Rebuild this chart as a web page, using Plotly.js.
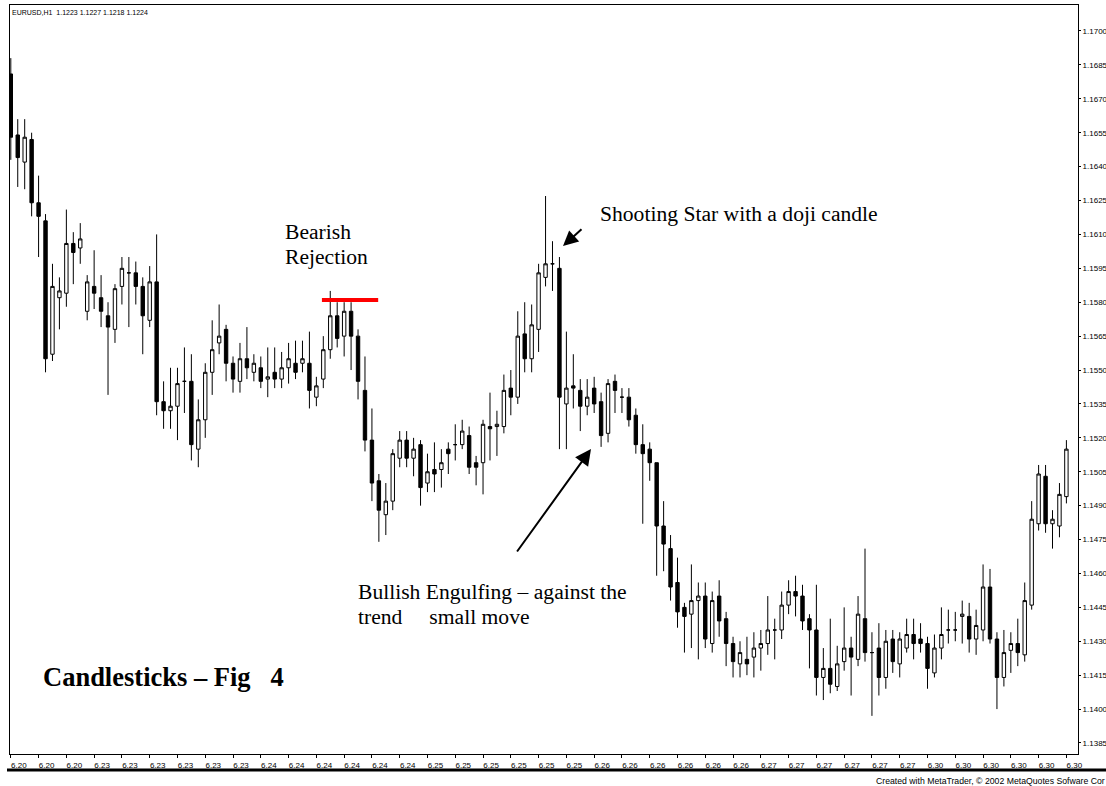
<!DOCTYPE html>
<html>
<head>
<meta charset="utf-8">
<script src="https://cdn.plot.ly/plotly-3.0.1.min.js"></script>
<style>
html,body{margin:0;padding:0;background:#fff;}
#chart{width:1106px;height:786px;}
</style>
</head>
<body>
<div id="chart"></div>
<script>
// EURUSD H1 candles (bar order left to right)
const opens = [
1.1681,1.1654,1.1642,1.1652,1.1624,1.1616,1.1557,1.1582,1.1584,1.1606,
1.1604,1.1576,1.1587,1.1582,1.1574,1.1568,1.1587,1.1593,1.1593,1.1587,
1.1572,1.1589,1.1536,1.1532,1.1534,1.1545,1.1545,1.1515,1.1528,1.1549,
1.1562,1.1568,1.1553,1.1545,1.1555,1.1549,1.1551,1.1546,1.1549,1.1546,
1.1551,1.1553,1.1553,1.1553,1.1538,1.1546,1.1559,1.1574,1.1565,1.1576,
1.1565,1.1541,1.1519,1.1501,1.1486,1.1492,1.1511,1.1519,1.1511,1.1517,
1.1500,1.1506,1.1506,1.1515,1.1517,1.1517,1.1521,1.1509,1.1509,1.1525,
1.1525,1.1525,1.1542,1.1538,1.1566,1.1555,1.1568,1.1591,1.1597,1.1595,
1.1535,1.1543,1.1541,1.1534,1.1542,1.1536,1.1522,1.1545,1.1538,1.1538,
1.1530,1.1517,1.1515,1.1509,1.1481,1.1471,1.1456,1.1445,1.1442,1.1448,
1.1450,1.1429,1.1450,1.1440,1.1429,1.1420,1.1422,1.1423,1.1427,1.1429,
1.1435,1.1435,1.1446,1.1452,1.1450,1.1440,1.1435,1.1414,1.1418,1.1410,
1.1421,1.1427,1.1422,1.1440,1.1425,1.1427,1.1414,1.1431,1.1420,1.1427,
1.1433,1.1431,1.1429,1.1416,1.1427,1.1435,1.1435,1.1441,1.1441,1.1431,
1.1435,1.1454,1.1431,1.1414,1.1426,1.1429,1.1424,1.1446,1.1482,1.1503,
1.1482,1.1481,1.1494
];
const highs = [
1.1688,1.1661,1.1661,1.1655,1.1636,1.1619,1.1597,1.1591,1.1621,1.1611,
1.1615,1.1592,1.1603,1.1592,1.1580,1.1588,1.1600,1.1600,1.1598,1.1591,
1.1596,1.1610,1.1545,1.1551,1.1551,1.1560,1.1557,1.1537,1.1553,1.1572,
1.1579,1.1570,1.1556,1.1562,1.1569,1.1557,1.1556,1.1560,1.1560,1.1558,
1.1562,1.1563,1.1563,1.1567,1.1547,1.1565,1.1585,1.1580,1.1580,1.1580,
1.1568,1.1556,1.1533,1.1504,1.1500,1.1515,1.1523,1.1523,1.1520,1.1519,
1.1513,1.1518,1.1515,1.1518,1.1526,1.1528,1.1525,1.1512,1.1528,1.1540,
1.1532,1.1548,1.1550,1.1576,1.1580,1.1579,1.1597,1.1627,1.1607,1.1600,
1.1567,1.1557,1.1546,1.1546,1.1547,1.1540,1.1546,1.1548,1.1542,1.1542,
1.1533,1.1526,1.1518,1.1509,1.1492,1.1477,1.1467,1.1447,1.1464,1.1456,
1.1456,1.1452,1.1457,1.1443,1.1432,1.1430,1.1432,1.1434,1.1435,1.1450,
1.1440,1.1452,1.1457,1.1459,1.1455,1.1442,1.1455,1.1427,1.1440,1.1428,
1.1445,1.1432,1.1450,1.1471,1.1434,1.1438,1.1435,1.1435,1.1434,1.1440,
1.1440,1.1438,1.1432,1.1433,1.1445,1.1444,1.1443,1.1448,1.1447,1.1444,
1.1464,1.1462,1.1434,1.1435,1.1434,1.1440,1.1456,1.1492,1.1508,1.1508,
1.1488,1.1500,1.1519
];
const lows = [
1.1643,1.1631,1.1630,1.1618,1.1600,1.1549,1.1554,1.1568,1.1578,1.1588,
1.1597,1.1572,1.1577,1.1569,1.1539,1.1562,1.1579,1.1569,1.1579,1.1557,
1.1569,1.1530,1.1524,1.1524,1.1519,1.1531,1.1510,1.1507,1.1520,1.1539,
1.1557,1.1545,1.1540,1.1540,1.1546,1.1545,1.1542,1.1538,1.1542,1.1542,
1.1544,1.1546,1.1549,1.1533,1.1534,1.1542,1.1555,1.1560,1.1556,1.1550,
1.1537,1.1514,1.1492,1.1474,1.1477,1.1488,1.1507,1.1507,1.1503,1.1490,
1.1496,1.1496,1.1498,1.1504,1.1510,1.1515,1.1504,1.1499,1.1495,1.1510,
1.1512,1.1522,1.1530,1.1535,1.1549,1.1549,1.1558,1.1587,1.1585,1.1515,
1.1515,1.1533,1.1523,1.1530,1.1531,1.1516,1.1518,1.1531,1.1531,1.1525,
1.1513,1.1482,1.1501,1.1459,1.1461,1.1448,1.1436,1.1425,1.1427,1.1422,
1.1427,1.1425,1.1432,1.1419,1.1414,1.1414,1.1415,1.1414,1.1417,1.1424,
1.1422,1.1431,1.1442,1.1441,1.1435,1.1418,1.1406,1.1404,1.1407,1.1408,
1.1417,1.1406,1.1419,1.1421,1.1397,1.1406,1.1409,1.1416,1.1414,1.1425,
1.1422,1.1425,1.1409,1.1414,1.1422,1.1429,1.1430,1.1429,1.1425,1.1424,
1.1430,1.1429,1.1400,1.1410,1.1416,1.1419,1.1421,1.1444,1.1479,1.1478,
1.1471,1.1476,1.1491
];
const closes = [
1.1653,1.1644,1.1653,1.1624,1.1618,1.1555,1.1587,1.1585,1.1606,1.1602,
1.1608,1.1589,1.1584,1.1576,1.1569,1.1586,1.1595,1.1593,1.1587,1.1574,
1.1589,1.1536,1.1532,1.1534,1.1544,1.1545,1.1517,1.1528,1.1549,1.1559,
1.1565,1.1553,1.1546,1.1555,1.1551,1.1553,1.1545,1.1547,1.1546,1.1551,
1.1555,1.1549,1.1555,1.1541,1.1543,1.1559,1.1574,1.1564,1.1576,1.1565,
1.1545,1.1519,1.1500,1.1488,1.1492,1.1513,1.1519,1.1511,1.1515,1.1498,
1.1505,1.1504,1.1509,1.1513,1.1517,1.1523,1.1507,1.1507,1.1526,1.1524,
1.1526,1.1541,1.1538,1.1565,1.1555,1.1570,1.1593,1.1597,1.1597,1.1538,
1.1542,1.1542,1.1534,1.1538,1.1535,1.1521,1.1544,1.1541,1.1538,1.1528,
1.1517,1.1513,1.1509,1.1481,1.1473,1.1454,1.1443,1.1441,1.1448,1.1450,
1.1431,1.1448,1.1439,1.1429,1.1421,1.1425,1.1420,1.1427,1.1429,1.1435,
1.1435,1.1446,1.1452,1.1450,1.1439,1.1435,1.1414,1.1418,1.1411,1.1420,
1.1427,1.1423,1.1442,1.1425,1.1425,1.1414,1.1430,1.1421,1.1431,1.1433,
1.1429,1.1429,1.1418,1.1427,1.1433,1.1435,1.1435,1.1442,1.1431,1.1437,
1.1454,1.1431,1.1414,1.1425,1.1429,1.1425,1.1448,1.1484,1.1504,1.1482,
1.1484,1.1495,1.1515
];
// time-axis labels (one every 4 hourly bars)
const dayLabels = [
'6.20','6.20','6.20','6.23','6.23','6.23','6.23','6.23','6.23',
'6.24','6.24','6.24','6.24','6.24','6.24','6.25','6.25','6.25','6.25','6.25','6.25',
'6.26','6.26','6.26','6.26','6.26','6.26','6.27','6.27','6.27','6.27','6.27','6.27',
'6.30','6.30','6.30','6.30','6.30','6.30'
];
const barsPerLabel = 4;
// price-axis labels
const priceTicks = [1.1385,1.1400,1.1415,1.1430,1.1445,1.1460,1.1475,1.1490,1.1505,1.1520,
  1.1535,1.1550,1.1565,1.1580,1.1595,1.1610,1.1625,1.1640,1.1655,1.1670,1.1685,1.1700];
// bearish rejection level and the bars it spans
const rejectionLevel = 1.1581;
const rejectionSpan = [44.8, 52.9];

const barIndex = opens.map((_, i) => i);
const tickVals = dayLabels.map((_, k) => k * barsPerLabel);

// layout helpers (pixel -> paper), plot area is x 10..1078, y 5..754
const L = 10, R = 1078, T = 5, B = 754;
const px = x => (x - L) / (R - L);
const py = y => (B - y) / (B - T);

const axisFont = {family: 'Liberation Sans, Arial, sans-serif', size: 8, color: '#000'};
const smallFont = {family: 'Liberation Sans, Arial, sans-serif', size: 7, color: '#000'};
const creditFont = {family: 'Liberation Sans, Arial, sans-serif', size: 8.7, color: '#000'};
const serif = {family: 'Liberation Serif, Times New Roman, serif', size: 21.6, color: '#000'};
const NB = '\u00a0';

const trace = {
  type: 'candlestick',
  x: barIndex, open: opens, high: highs, low: lows, close: closes,
  increasing: {line: {color: '#000', width: 1}, fillcolor: '#ffffff'},
  decreasing: {line: {color: '#000', width: 1}, fillcolor: '#000000'},
  whiskerwidth: 0,
  showlegend: false,
  hoverinfo: 'x+y'
};

const txt = (x, y, text, font, extra) => Object.assign({
  xref: 'paper', yref: 'paper', x: px(x), y: py(y), text: text, showarrow: false,
  xanchor: 'left', yanchor: 'middle', font: font
}, extra || {});

const layout = {
  width: 1106, height: 786,
  margin: {l: L, r: 1106 - R, t: T, b: 786 - B, pad: 0},
  paper_bgcolor: '#fff', plot_bgcolor: '#fff',
  showlegend: false,
  xaxis: {
    range: [-0.115, 153.67], rangeslider: {visible: false},
    tickmode: 'array', tickvals: tickVals, ticktext: dayLabels,
    ticks: 'outside', ticklen: 3, tickcolor: '#000', tickwidth: 1,
    ticklabelshift: 8,
    showgrid: false, zeroline: false, showline: true, linecolor: '#000', linewidth: 1, mirror: true,
    tickfont: axisFont, fixedrange: true
  },
  yaxis: {
    side: 'right', range: [1.138013, 1.171150],
    tickmode: 'array', tickvals: priceTicks, ticktext: priceTicks.map(v => v.toFixed(4)),
    ticks: 'outside', ticklen: 2, tickcolor: '#000', tickwidth: 1,
    showgrid: false, zeroline: false, showline: true, linecolor: '#000', linewidth: 1, mirror: true,
    tickfont: axisFont, fixedrange: true
  },
  shapes: [
    {type: 'line', xref: 'x', yref: 'y', x0: rejectionSpan[0], x1: rejectionSpan[1],
     y0: rejectionLevel, y1: rejectionLevel, line: {color: '#ff0000', width: 4}},
    {type: 'line', xref: 'paper', yref: 'paper', x0: px(7), x1: px(1106), y0: py(770), y1: py(770),
     line: {color: '#000', width: 3}}
  ],
  annotations: [
    txt(10, 12, 'EURUSD,H1' + NB + NB + '1.1223 1.1227 1.1218 1.1224', smallFont),
    txt(874, 781, 'Created with MetaTrader, © 2002 MetaQuotes Sofware Cor', creditFont),
    txt(283, 232, 'Bearish', serif),
    txt(283, 257, 'Rejection', serif),
    txt(598, 214, 'Shooting Star with a doji candle', serif),
    txt(356, 592, 'Bullish Engulfing – against the', serif),
    txt(356, 617, 'trend' + NB.repeat(5) + 'small move', serif),
    txt(41, 677, '<b>Candlesticks – Fig' + NB.repeat(3) + '4</b>',
        {family: 'Liberation Serif, Times New Roman, serif', size: 26.5, color: '#000'}),
    {xref: 'paper', yref: 'paper', x: px(563), y: py(246), ax: 20, ay: -18, text: '',
     showarrow: true, arrowhead: 2, arrowsize: 1.5, arrowwidth: 2, arrowcolor: '#000'},
    {xref: 'paper', yref: 'paper', x: px(591), y: py(449), ax: -75, ay: 104, text: '',
     showarrow: true, arrowhead: 2, arrowsize: 1.6, arrowwidth: 2, arrowcolor: '#000'}
  ]
};

Plotly.newPlot('chart', [trace], layout, {displayModeBar: false, staticPlot: true});
</script>
</body>
</html>
